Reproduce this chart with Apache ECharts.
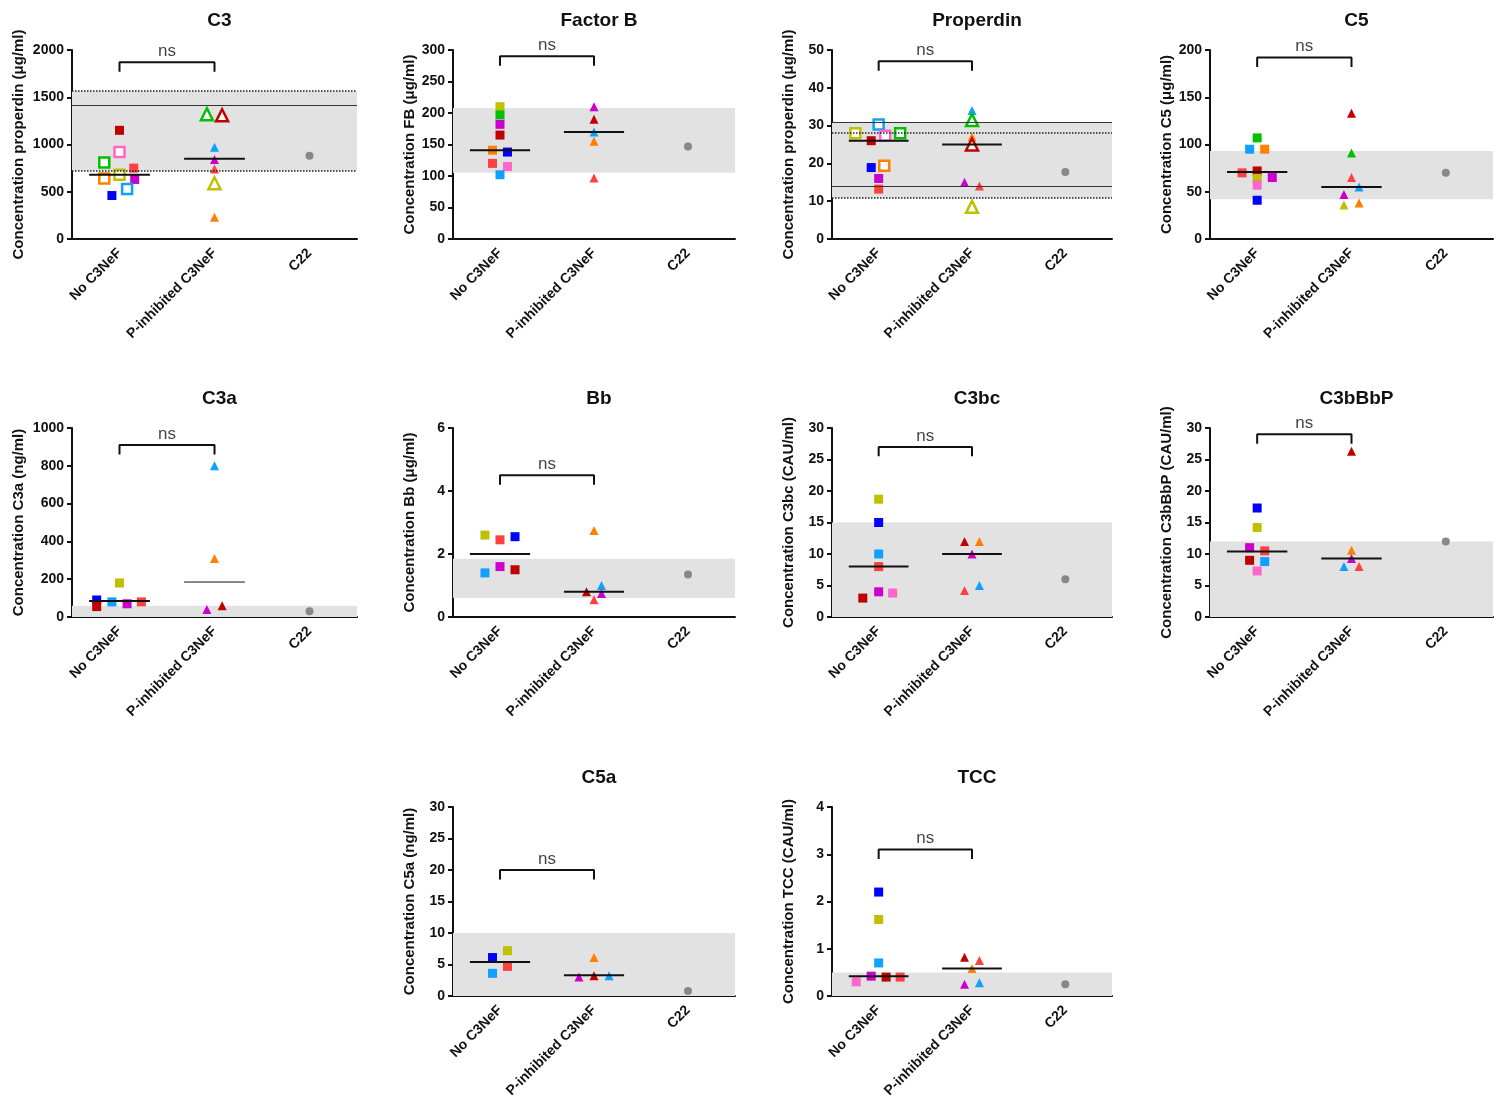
<!DOCTYPE html>
<html><head><meta charset="utf-8">
<script src="https://cdn.jsdelivr.net/npm/echarts@6/dist/echarts.min.js"></script>
<style>body{margin:0;background:#fff}#c{width:1502px;height:1112px}</style>
</head><body><div id="c"></div>
<script>
var groups = ["No C3NeF", "P-inhibited C3NeF", "C22"];
var R='#ff4040',DR='#c00000',B='#0000ff',LB='#10a0ff',G='#00c000',M='#cc00cc',PK='#ff66cc',O='#ff8000',OL='#c0c000',GR='#888888';

// [value, x offset (category units), colour, hollow]
var c3No = [[1150,0,DR,0],[920,0,PK,1],[810,-0.16,G,1],[750,0.15,R,0],[680,0,OL,1],[640,-0.16,O,1],[630,0.16,M,0],[530,0.08,LB,1],[460,-0.08,B,0]];
var c3P = [[1320,-0.08,G,1],[1310,0.08,DR,1],[970,0,LB,0],[840,0,M,0],[740,0,R,0],[590,0,OL,1],[230,0,O,0]];
var fbNo = [[210,0,OL,0],[197,0,G,0],[182,0,M,0],[165,0,DR,0],[141,-0.08,O,0],[138,0.08,B,0],[120,-0.08,R,0],[115,0.08,PK,0],[102,0,LB,0]];
var fbP = [[210,0,M,0],[190,0,DR,0],[170,0,LB,0],[155,0,O,0],[97,0,R,0]];
var pNo = [[30.3,0,LB,1],[28,-0.25,OL,1],[28,0.23,G,1],[27.3,0.07,PK,1],[26,-0.08,DR,0],[19.4,0.06,O,1],[18.9,-0.08,B,0],[16,0,M,0],[13.2,0,R,0]];
var pP = [[34,0,LB,0],[31.5,0,G,1],[27,0,O,0],[25,0,DR,1],[15,-0.08,M,0],[14,0.08,R,0],[8.5,0,OL,1]];
var c5No = [[107,0,G,0],[95,-0.08,LB,0],[95,0.08,O,0],[72,0,DR,0],[70,-0.16,R,0],[64,0,OL,0],[65,0.16,M,0],[57,0,PK,0],[41,0,B,0]];
var c5P = [[133,0,DR,0],[91,0,G,0],[65,0,R,0],[55,0.08,LB,0],[47,-0.08,M,0],[38,0.08,O,0],[36,-0.08,OL,0]];
var c3aNo = [[180,0,OL,0],[90,-0.24,B,0],[80,-0.08,LB,0],[55,-0.24,DR,0],[80,0.23,R,0],[70,0.08,M,0]];
var c3aP = [[800,0,LB,0],[310,0,O,0],[40,-0.08,M,0],[60,0.08,DR,0]];
var bbNo = [[2.6,-0.16,OL,0],[2.55,0.16,B,0],[2.45,0,R,0],[1.6,0,M,0],[1.4,-0.16,LB,0],[1.5,0.16,DR,0]];
var bbP = [[2.75,0,O,0],[1.0,0.08,LB,0],[0.8,-0.08,DR,0],[0.75,0.08,M,0],[0.55,0,R,0]];
var cbcNo = [[18.7,0,OL,0],[15,0,B,0],[10,0,LB,0],[8,0,R,0],[4,0,M,0],[3.8,0.15,PK,0],[3,-0.17,DR,0]];
var cbcP = [[12,-0.08,DR,0],[12,0.08,O,0],[10,0,M,0],[5,0.08,LB,0],[4.2,-0.08,R,0]];
var cbpNo = [[17.3,0,B,0],[14.2,0,OL,0],[11,-0.08,M,0],[10.5,0.08,R,0],[9,-0.08,DR,0],[8.8,0.08,LB,0],[7.3,0,PK,0]];
var cbpP = [[26.3,0,DR,0],[10.6,0,O,0],[9.3,0,M,0],[8,-0.08,LB,0],[8,0.08,R,0]];
var c5aNo = [[7.2,0.08,OL,0],[6.1,-0.08,B,0],[4.7,0.08,R,0],[3.6,-0.08,LB,0]];
var c5aP = [[6.1,0,O,0],[3,-0.16,M,0],[3.2,0,DR,0],[3.2,0.16,LB,0]];
var tccNo = [[2.2,0,B,0],[1.62,0,OL,0],[0.7,0,LB,0],[0.42,-0.08,M,0],[0.4,0.08,DR,0],[0.4,0.23,R,0],[0.3,-0.24,PK,0]];
var tccP = [[0.82,-0.08,DR,0],[0.75,0.08,R,0],[0.58,0,O,0],[0.25,-0.08,M,0],[0.28,0.08,LB,0]];

// panel: title, y name, max, interval, no, p, c22, medians, band, solid lines, dotted lines, bracket height, col, row
var panels = [
 ["C3","Concentration properdin (μg/ml)",2000,500,c3No,c3P,880,[680,850],[720,1565],[1420],[1565,725],1870,0,0],
 ["Factor B","Concentration FB (μg/ml)",300,50,fbNo,fbP,147,[141,170],[105,208],[],[],290,1,0],
 ["Properdin","Concentration properdin (μg/ml)",50,10,pNo,pP,17.7,[26,25],[10.8,30.8],[30.8,14],[28,10.8],47,2,0],
 ["C5","Concentration C5 (μg/ml)",200,50,c5No,c5P,70,[71,55],[42,93],[],[],192,3,0],
 ["C3a","Concentration C3a (ng/ml)",1000,200,c3aNo,c3aP,30,[85,185],[0,60],[],[],910,0,1],
 ["Bb","Concentration Bb (μg/ml)",6,2,bbNo,bbP,1.35,[2.0,0.8],[0.6,1.85],[],[],4.5,1,1],
 ["C3bc","Concentration C3bc (CAU/ml)",30,5,cbcNo,cbcP,6,[8,10],[0,15],[],[],27,2,1],
 ["C3bBbP","Concentration C3bBbP (CAU/ml)",30,5,cbpNo,cbpP,12,[10.4,9.3],[0,12],[],[],29,3,1],
 ["C5a","Concentration C5a (ng/ml)",30,5,c5aNo,c5aP,0.8,[5.4,3.3],[0,10],[],[],20,1,2],
 ["TCC","Concentration TCC (CAU/ml)",4,1,tccNo,tccP,0.25,[0.42,0.58],[0,0.5],[],[],3.1,2,2]
];
var colL=[72,453,832,1210], colW=[285,282,280,283], rowT=[50,428,807], H=189;

var option={animation:false,title:[],grid:[],xAxis:[],yAxis:[],series:[]};
panels.forEach(function(p,i){
  var l=colL[p[12]], w=colW[p[12]], t=rowT[p[13]];
  option.title.push({text:p[0],left:l+w/2,top:t-44,textAlign:'center',textStyle:{fontSize:19,fontWeight:'bold',color:'#111',fontFamily:'Arial'}});
  option.grid.push({left:l,top:t,width:w,height:H});
  var lab={color:'#111',fontWeight:'bold',fontSize:14,fontFamily:'Arial'};
  option.xAxis.push({gridIndex:i,type:'category',data:groups,boundaryGap:true,
    axisLine:{lineStyle:{color:'#111',width:2}},axisTick:{alignWithLabel:true,length:6,lineStyle:{width:2}},
    axisLabel:Object.assign({rotate:45,margin:12,interval:0},lab)});
  option.xAxis.push({gridIndex:i,type:'value',min:0,max:3,show:false});
  option.yAxis.push({gridIndex:i,type:'value',min:0,max:p[2],interval:p[3],name:p[1],nameLocation:'middle',nameGap:p[2]>=1000?46:36,
    nameTextStyle:{fontWeight:'bold',fontSize:15,color:'#111',fontFamily:'Arial'},
    axisLine:{show:true,lineStyle:{color:'#111',width:2}},axisTick:{show:true,length:5,lineStyle:{width:2}},
    splitLine:{show:false},axisLabel:Object.assign({formatter:function(v){return String(v);}},lab)});
  var xi=2*i+1;
  function pts(arr,c,sym){return arr.map(function(d){
    return {value:[c+d[1],d[0]],symbol:sym,symbolSize:d[3]?(sym==='triangle'?12:10):9,
      itemStyle:d[3]?{color:'#fff',borderColor:d[2],borderWidth:2.5,opacity:1}:{color:d[2],opacity:1}};});}
  var mls=[];
  p[9].forEach(function(v){mls.push({yAxis:v,lineStyle:{type:'solid',color:'#333',width:1}});});
  p[10].forEach(function(v){mls.push({yAxis:v,lineStyle:{type:'dotted',color:'#222',width:1.5}});});
  option.series.push({type:'scatter',xAxisIndex:xi,yAxisIndex:i,silent:true,z:1,data:[],
    markArea:{silent:true,itemStyle:{color:'#e2e2e2'},data:[[{yAxis:p[8][0]},{yAxis:p[8][1]}]]},
    markLine:{silent:true,symbol:'none',label:{show:false},data:mls}});
  option.series.push({type:'scatter',xAxisIndex:xi,yAxisIndex:i,z:3,data:pts(p[4],0.5,'rect').concat(pts(p[5],1.5,'triangle'))
    .concat([{value:[2.5,p[6]],symbol:'circle',symbolSize:8,itemStyle:{color:GR,opacity:1}}])});
  [0,1].forEach(function(k){
    option.series.push({type:'line',xAxisIndex:xi,yAxisIndex:i,z:4,symbol:'none',
      lineStyle:{color:'#111',width:k===1&&i===4?1:2},data:[[k+0.18,p[7][k]],[k+0.82,p[7][k]]]});
  });
  var bh=p[11], dip=p[2]*0.05;
  option.series.push({type:'line',xAxisIndex:xi,yAxisIndex:i,z:4,symbol:'none',lineStyle:{color:'#111',width:2},
    data:[[0.5,bh-dip],[0.5,bh],[1.5,bh],[1.5,bh-dip]]});
  option.series.push({type:'scatter',xAxisIndex:xi,yAxisIndex:i,z:5,symbolSize:1,itemStyle:{color:'transparent'},
    label:{show:true,position:'top',distance:2,formatter:'ns',fontSize:17,color:'#111',fontFamily:'Arial'},
    data:[[1,bh]]});
});
echarts.init(document.getElementById('c')).setOption(option);
</script></body></html>
